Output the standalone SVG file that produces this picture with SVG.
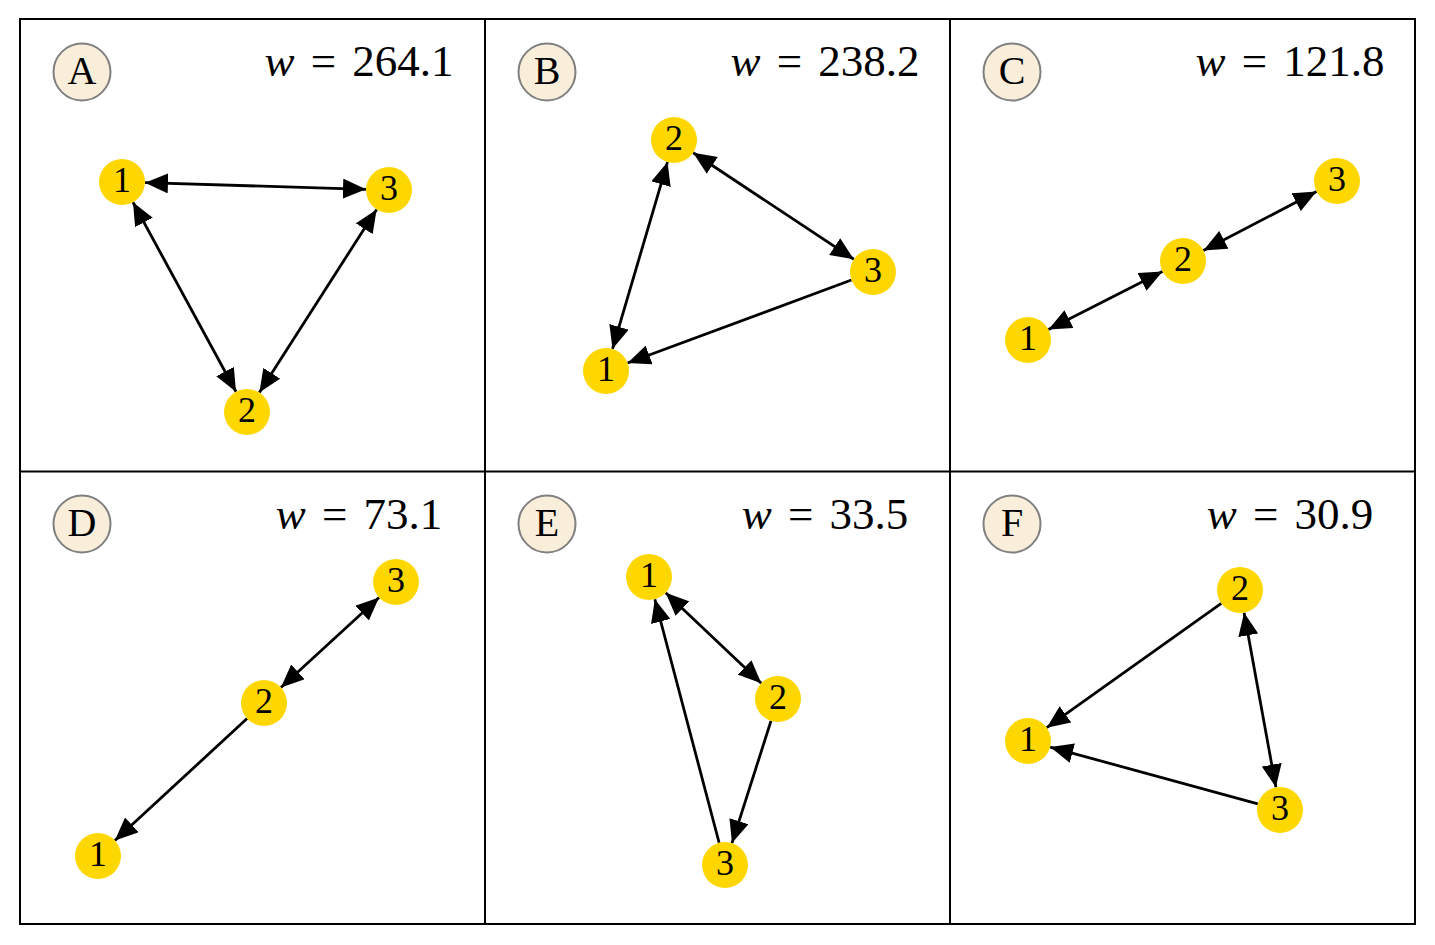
<svg xmlns="http://www.w3.org/2000/svg" width="1435" height="945" viewBox="0 0 1435 945">
<style>
.frame{fill:none;stroke:#000;stroke-width:2}
.badge circle{fill:#F8EEDA;stroke:#808080;stroke-width:2}
.badge text{font-family:"Liberation Serif","DejaVu Serif",serif;font-size:40px;fill:#000;text-anchor:middle}
.node circle{fill:#FFD700}
.node text{font-family:"Liberation Serif","DejaVu Serif",serif;font-size:36px;fill:#000;text-anchor:middle}
.wlabel{font-family:"Liberation Serif","DejaVu Serif",serif;font-size:45px;fill:#000;text-anchor:middle;word-spacing:5px}
.edges line{stroke:#000;stroke-width:2.8}
.bi{marker-start:url(#ah);marker-end:url(#ah)}
.uni{marker-end:url(#ah)}
</style>
<defs>
<marker id="ah" viewBox="0 0 23 20" refX="23" refY="10" markerWidth="23" markerHeight="20" markerUnits="userSpaceOnUse" orient="auto-start-reverse">
<path d="M0,0 L23,10 L0,20 z" fill="#000"/>
</marker>
</defs>
<rect x="0" y="0" width="1435" height="945" fill="#fff"/>
<g id="frame">
<rect class="frame" x="20" y="19" width="1395" height="905"/>
<line class="frame" x1="485" y1="19" x2="485" y2="924"/>
<line class="frame" x1="950" y1="19" x2="950" y2="924"/>
<line class="frame" x1="20" y1="471.5" x2="1415" y2="471.5"/>
</g>
<g id="labels">
<text class="wlabel" x="359" y="76"><tspan font-style="italic">w</tspan> = 264.1</text>
<text class="wlabel" x="825" y="76"><tspan font-style="italic">w</tspan> = 238.2</text>
<text class="wlabel" x="1290" y="76"><tspan font-style="italic">w</tspan> = 121.8</text>
<text class="wlabel" x="359" y="529"><tspan font-style="italic">w</tspan> = 73.1</text>
<text class="wlabel" x="825" y="529"><tspan font-style="italic">w</tspan> = 33.5</text>
<text class="wlabel" x="1290" y="529"><tspan font-style="italic">w</tspan> = 30.9</text>
</g>
<g id="badge-A" class="badge"><circle cx="82" cy="72" r="28.5"/><text x="82" y="83.5">A</text></g>
<g id="badge-B" class="badge"><circle cx="547" cy="72" r="28.5"/><text x="547" y="83.5">B</text></g>
<g id="badge-C" class="badge"><circle cx="1012" cy="72" r="28.5"/><text x="1012" y="83.5">C</text></g>
<g id="badge-D" class="badge"><circle cx="82" cy="524" r="28.5"/><text x="82" y="535.5">D</text></g>
<g id="badge-E" class="badge"><circle cx="547" cy="524" r="28.5"/><text x="547" y="535.5">E</text></g>
<g id="badge-F" class="badge"><circle cx="1012" cy="524" r="28.5"/><text x="1012" y="535.5">F</text></g>
<g id="connectors" class="edges">
<line class="bi" x1="144.99" y1="182.69" x2="366.01" y2="189.31"/>
<line class="bi" x1="132.98" y1="202.21" x2="236.02" y2="391.79"/>
<line class="bi" x1="376.61" y1="209.38" x2="259.39" y2="392.62"/>
<line class="bi" x1="693.17" y1="152.71" x2="853.83" y2="259.29"/>
<line class="bi" x1="667.50" y1="162.06" x2="612.50" y2="348.94"/>
<line class="uni" x1="851.43" y1="280.0" x2="627.57" y2="363.0"/>
<line class="bi" x1="1316.59" y1="191.60" x2="1203.41" y2="250.40"/>
<line class="bi" x1="1162.51" y1="271.44" x2="1048.49" y2="329.56"/>
<line class="bi" x1="379.04" y1="597.54" x2="280.96" y2="687.46"/>
<line class="uni" x1="247.09" y1="718.59" x2="114.91" y2="840.41"/>
<line class="bi" x1="665.71" y1="592.80" x2="761.29" y2="683.20"/>
<line class="uni" x1="771.0" y1="720.91" x2="732.0" y2="843.09"/>
<line class="uni" x1="719.13" y1="842.76" x2="654.87" y2="599.24"/>
<line class="uni" x1="1221.27" y1="603.34" x2="1046.73" y2="727.66"/>
<line class="uni" x1="1257.82" y1="803.93" x2="1050.18" y2="747.07"/>
<line class="bi" x1="1244.11" y1="612.63" x2="1275.89" y2="787.37"/>
</g>
<g id="A1" class="node"><circle cx="122" cy="182" r="23"/><text x="122" y="192">1</text></g>
<g id="A2" class="node"><circle cx="247" cy="412" r="23"/><text x="247" y="422">2</text></g>
<g id="A3" class="node"><circle cx="389" cy="190" r="23"/><text x="389" y="200">3</text></g>
<g id="B1" class="node"><circle cx="606" cy="371" r="23"/><text x="606" y="381">1</text></g>
<g id="B2" class="node"><circle cx="674" cy="140" r="23"/><text x="674" y="150">2</text></g>
<g id="B3" class="node"><circle cx="873" cy="272" r="23"/><text x="873" y="282">3</text></g>
<g id="C1" class="node"><circle cx="1028" cy="340" r="23"/><text x="1028" y="350">1</text></g>
<g id="C2" class="node"><circle cx="1183" cy="261" r="23"/><text x="1183" y="271">2</text></g>
<g id="C3" class="node"><circle cx="1337" cy="181" r="23"/><text x="1337" y="191">3</text></g>
<g id="D1" class="node"><circle cx="98" cy="856" r="23"/><text x="98" y="866">1</text></g>
<g id="D2" class="node"><circle cx="264" cy="703" r="23"/><text x="264" y="713">2</text></g>
<g id="D3" class="node"><circle cx="396" cy="582" r="23"/><text x="396" y="592">3</text></g>
<g id="E1" class="node"><circle cx="649" cy="577" r="23"/><text x="649" y="587">1</text></g>
<g id="E2" class="node"><circle cx="778" cy="699" r="23"/><text x="778" y="709">2</text></g>
<g id="E3" class="node"><circle cx="725" cy="865" r="23"/><text x="725" y="875">3</text></g>
<g id="F1" class="node"><circle cx="1028" cy="741" r="23"/><text x="1028" y="751">1</text></g>
<g id="F2" class="node"><circle cx="1240" cy="590" r="23"/><text x="1240" y="600">2</text></g>
<g id="F3" class="node"><circle cx="1280" cy="810" r="23"/><text x="1280" y="820">3</text></g>
</svg>
